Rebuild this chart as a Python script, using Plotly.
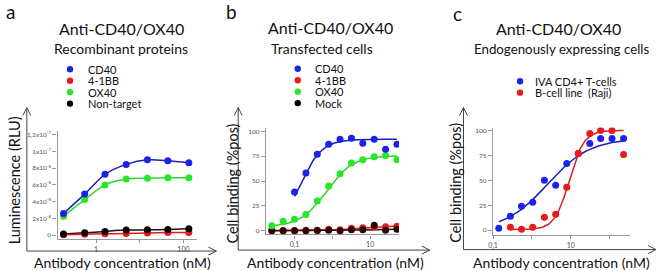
import numpy as np
import plotly.graph_objects as go

W, H = 658, 271
FONT = "Lato"

# ---------------- data ----------------
# Panel a: recombinant proteins (luminescence, RLU)
conc_a = [0.18, 0.55, 1.6, 4.9, 15, 44, 133]
cd40_a = [2.58e-8, 4.9e-8, 7.26e-8, 8.45e-8, 9.0e-8, 8.9e-8, 8.65e-8]
ox40_a = [2.26e-8, 4.25e-8, 6.0e-8, 6.7e-8, 6.8e-8, 6.85e-8, 6.85e-8]
bb_a = [0.05e-8, 0.1e-8, 0.15e-8, 0.2e-8, 0.25e-8, 0.3e-8, 0.3e-8]
nontarget_a = [0.12e-8, 0.27e-8, 0.44e-8, 0.6e-8, 0.63e-8, 0.68e-8, 0.75e-8]

# Panel b: transfected cells (% pos)
conc_b = [0.025, 0.05, 0.1, 0.2, 0.4, 0.8, 1.6, 3.2, 6.4, 12.8, 25.6, 51.2]
cd40_b = [None, None, 39, 58, 77, 87, 92, 93, 88, 92, 82, 87]
ox40_b = [5, 9.7, 11.7, 16.4, 30, 45, 57.4, 68, 71.4, 74.4, 75.7, 71.4]
bb_b = [0.5, 0.3, 0.4, 0.5, 0.5, 1.5, 1.0, 2.5, 3, 3.5, 4, 4.5]
mock_b = [0, 0, 0, 0, 0.3, 0.5, 0, 1, 1, 5.5, 0.5, 1.5]

# Panel c: endogenously expressing cells (% pos)
conc_c = [0.14, 0.28, 0.54, 1.05, 2.1, 4.1, 7.9, 15.7, 31, 59, 116, 230]
tcell_c = [2, 14, 24, 28, 50, 45, 67, 77, 87, 92, 92, 92]
raji_c = [None, 3, 1, 3, 13, 16, 43, 77, 97, 100, 100, 76]

# 4-parameter logistic fits (bottom, top, EC50, hill)
fit_cd40_b = (0, 92, 0.14, 1.5)
fit_ox40_b = (4, 75.5, 0.7, 1.25)
fit_bb_b = (0.3, 5.5, 8, 1.0)
fit_mock_b = (0, 2.0, 10, 1.0)
fit_tcell_c = (0, 92, 2.5, 0.8)
fit_raji_c = (0.5, 100, 9.2, 2.3)

# tick labels
yticks_a = [0, 2e-8, 4e-8, 6e-8, 8e-8, 1e-7, 1.2e-7]
yticktext_a = ["0", "2x10<sup>-8</sup>", "4x10<sup>-8</sup>", "6x10<sup>-8</sup>",
               "8x10<sup>-8</sup>", "1x10<sup>-7</sup>", "1,2x10<sup>-7</sup>"]
xticks_a, xticktext_a, xminor_a = [1, 100], ["1", "100"], [10]
yticks_pct, yticktext_pct = [0, 25, 50, 75, 100], ["0", "25", "50", "75", "100"]
xticks_b, xticktext_b, xminor_b = [0.1, 10], ["0,1", "10"], [1]
xticks_c, xticktext_c, xminor_c = [0.1, 10], ["0,1", "10"], [1, 100]

BLUE_M, BLUE_L = "rgb(25,35,235)", "rgb(30,30,190)"
GREEN_M, GREEN_L = "rgb(40,230,40)", "rgb(45,215,45)"
RED_M, RED_L = "rgb(235,25,25)", "rgb(220,30,30)"
BLACK_M, BLACK_L = "rgb(10,0,0)", "rgb(40,10,10)"
AX = "#9a9a9a"


def px(x):
    return x / W


def py(y):
    return 1 - y / H


def hill(x, p):
    b, t, e, h = p
    x = np.asarray(x, dtype=float)
    return b + (t - b) / (1 + (e / x) ** h)


def curve_x(xs):
    v = [a for a, b in zip(xs[0], xs[1]) if b is not None]
    return np.logspace(np.log10(min(v)), np.log10(max(v)), 150)


fig = go.Figure()


def pts(x, y, color, xa, ya):
    fig.add_trace(go.Scatter(x=x, y=y, mode="markers", xaxis=xa, yaxis=ya,
                             marker=dict(size=7, color=color), hoverinfo="skip"))


def line_spline(x, y, color, xa, ya):
    fig.add_trace(go.Scatter(x=x, y=y, mode="lines", xaxis=xa, yaxis=ya,
                             line=dict(color=color, width=1.5, shape="spline", smoothing=0.8),
                             hoverinfo="skip"))


def line_fit(x, y, p, color, xa, ya):
    xx = curve_x((x, y))
    fig.add_trace(go.Scatter(x=xx, y=hill(xx, p), mode="lines", xaxis=xa, yaxis=ya,
                             line=dict(color=color, width=1.5), hoverinfo="skip"))


# panel a
line_spline(conc_a, nontarget_a, BLACK_L, "x", "y")
line_spline(conc_a, bb_a, RED_L, "x", "y")
line_spline(conc_a, ox40_a, GREEN_L, "x", "y")
line_spline(conc_a, cd40_a, BLUE_L, "x", "y")
pts(conc_a, bb_a, RED_M, "x", "y")
pts(conc_a, nontarget_a, BLACK_M, "x", "y")
pts(conc_a, ox40_a, GREEN_M, "x", "y")
pts(conc_a, cd40_a, BLUE_M, "x", "y")

# panel b
line_fit(conc_b, bb_b, fit_bb_b, RED_L, "x2", "y2")
line_fit(conc_b, mock_b, fit_mock_b, BLACK_L, "x2", "y2")
line_fit(conc_b, ox40_b, fit_ox40_b, GREEN_L, "x2", "y2")
line_fit(conc_b, cd40_b, fit_cd40_b, BLUE_L, "x2", "y2")
pts(conc_b, bb_b, RED_M, "x2", "y2")
pts(conc_b, mock_b, "rgb(45,5,5)", "x2", "y2")
pts(conc_b, ox40_b, GREEN_M, "x2", "y2")
pts(conc_b, cd40_b, BLUE_M, "x2", "y2")

# panel c
line_fit(conc_c, tcell_c, fit_tcell_c, BLUE_L, "x3", "y3")
line_fit(conc_c, raji_c, fit_raji_c, RED_L, "x3", "y3")
pts(conc_c, tcell_c, BLUE_M, "x3", "y3")
pts(conc_c, raji_c, RED_M, "x3", "y3")


def xaxis(dom, rng, tv, tt, minor, anchor):
    return dict(domain=[px(dom[0]), px(dom[1])], anchor=anchor, type="log", range=rng,
                showline=True, linecolor=AX, linewidth=1.3, ticks="outside", ticklen=3,
                tickcolor=AX, tickvals=tv, ticktext=tt, showgrid=False, zeroline=False,
                minor=dict(tickvals=minor, ticks="outside", ticklen=3, tickcolor=AX, showgrid=False),
                tickfont=dict(size=7, color="#555", family=FONT))


def yaxis(dom, rng, tv, tt, anchor):
    return dict(domain=[py(dom[1]), py(dom[0])], anchor=anchor, range=rng,
                showline=True, linecolor=AX, linewidth=1.3, ticks="outside", ticklen=4,
                tickcolor=AX, tickvals=tv, ticktext=tt, showgrid=False, zeroline=False,
                tickfont=dict(size=6.5, color="#555", family=FONT))


fig.update_layout(
    width=W, height=H, autosize=False, margin=dict(l=0, r=0, t=0, b=0),
    paper_bgcolor="white", plot_bgcolor="white", showlegend=False,
    font=dict(family=FONT, color="#111"),
    xaxis=xaxis((53, 193), [-0.88, 2.30], xticks_a, xticktext_a, xminor_a, "y"),
    yaxis=yaxis((130, 239), [-0.48e-8, 1.25e-7], yticks_a, yticktext_a, "x"),
    xaxis2=xaxis((263, 397), [-1.755, 1.763], xticks_b, xticktext_b, xminor_b, "y2"),
    yaxis2=yaxis((127, 234.3), [-3.6, 103.7], yticks_pct, yticktext_pct, "x2"),
    xaxis3=xaxis((491.7, 630), [-1.003, 2.533], xticks_c, xticktext_c, xminor_c, "y3"),
    yaxis3=yaxis((127, 235), [-5, 103], yticks_pct, yticktext_pct, "x3"),
)

ann = []
shapes = []


def text(x, y, s, size, xanchor="center", angle=0, color="#111"):
    ann.append(dict(x=px(x), y=py(y), xref="paper", yref="paper", text=s, showarrow=False,
                    xanchor=xanchor, yanchor="middle", textangle=angle, borderpad=0,
                    font=dict(size=size, family=FONT, color=color)))


def seg(x0, y0, x1, y1, color="#444", w=1):
    shapes.append(dict(type="line", xref="paper", yref="paper", x0=px(x0), y0=py(y0),
                       x1=px(x1), y1=py(y1), line=dict(color=color, width=w)))


def frame(xv, ytop, ybot, xright):
    seg(xv, ybot, xv, ytop)
    seg(xv, ytop, xv - 4, ytop + 8)
    seg(xv, ytop, xv + 4, ytop + 8)
    seg(xv, ybot, xright, ybot)
    seg(xright, ybot, xright - 8, ybot - 4)
    seg(xright, ybot, xright - 8, ybot + 4)


def dot(x, y, color, r=3.2):
    shapes.append(dict(type="circle", xref="paper", yref="paper", x0=px(x - r), x1=px(x + r),
                       y0=py(y + r), y1=py(y - r), fillcolor=color, line=dict(width=0)))


# panel letters
text(6, 11, "a", 19)
text(228, 11, "b", 19)
text(456, 13, "c", 19)

# titles
text(117, 28, "Anti-CD40/OX40", 16)
text(117, 48, "Recombinant proteins", 14)
text(328, 27, "Anti-CD40/OX40", 16)
text(319.5, 48, "Transfected cells", 14)
text(558, 28, "Anti-CD40/OX40", 16)
text(561, 48, "Endogenously expressing cells", 13.3)

# legends
leg_a = [("CD40", BLUE_M), ("4-1BB", RED_M), ("OX40", GREEN_M), ("Non-target", BLACK_M)]
leg_b = [("CD40", BLUE_M), ("4-1BB", RED_M), ("OX40", GREEN_M), ("Mock", BLACK_M)]
leg_c = [("IVA CD4+ T-cells", BLUE_M), ("B-cell line&nbsp;&nbsp;(Raji)", RED_M)]
for (lx, tx, y0, items) in [(65.5, 83, 68.5, leg_a), (295, 311.5, 68, leg_b), (519, 533, 80.5, leg_c)]:
    for i, (lab, c) in enumerate(items):
        yy = y0 + i * 11.5
        dot(lx, yy, c)
        text(tx, yy, lab, 11, xanchor="left")

# outer frames with arrows
frame(22, 107, 251, 213)
frame(235, 107, 250, 428)
frame(462, 107, 249.5, 656)

# axis titles
text(9, 180, "Luminescence (RLU)", 14.5, angle=-90)
text(229, 183, "Cell binding (%pos)", 14.5, angle=-90)
text(454, 183, "Cell binding (%pos)", 14.5, angle=-90)
text(118.5, 262, "Antibody concentration (nM)", 14)
text(333, 262, "Antibody concentration (nM)", 14)
text(560.5, 262, "Antibody concentration (nM)", 14)

fig.update_layout(annotations=ann, shapes=shapes)
fig.write_html("out.html", config={"displayModeBar": False},
               post_script="document.body.style.margin='0';document.body.style.padding='0';"
                           "document.documentElement.style.overflow='hidden';")
